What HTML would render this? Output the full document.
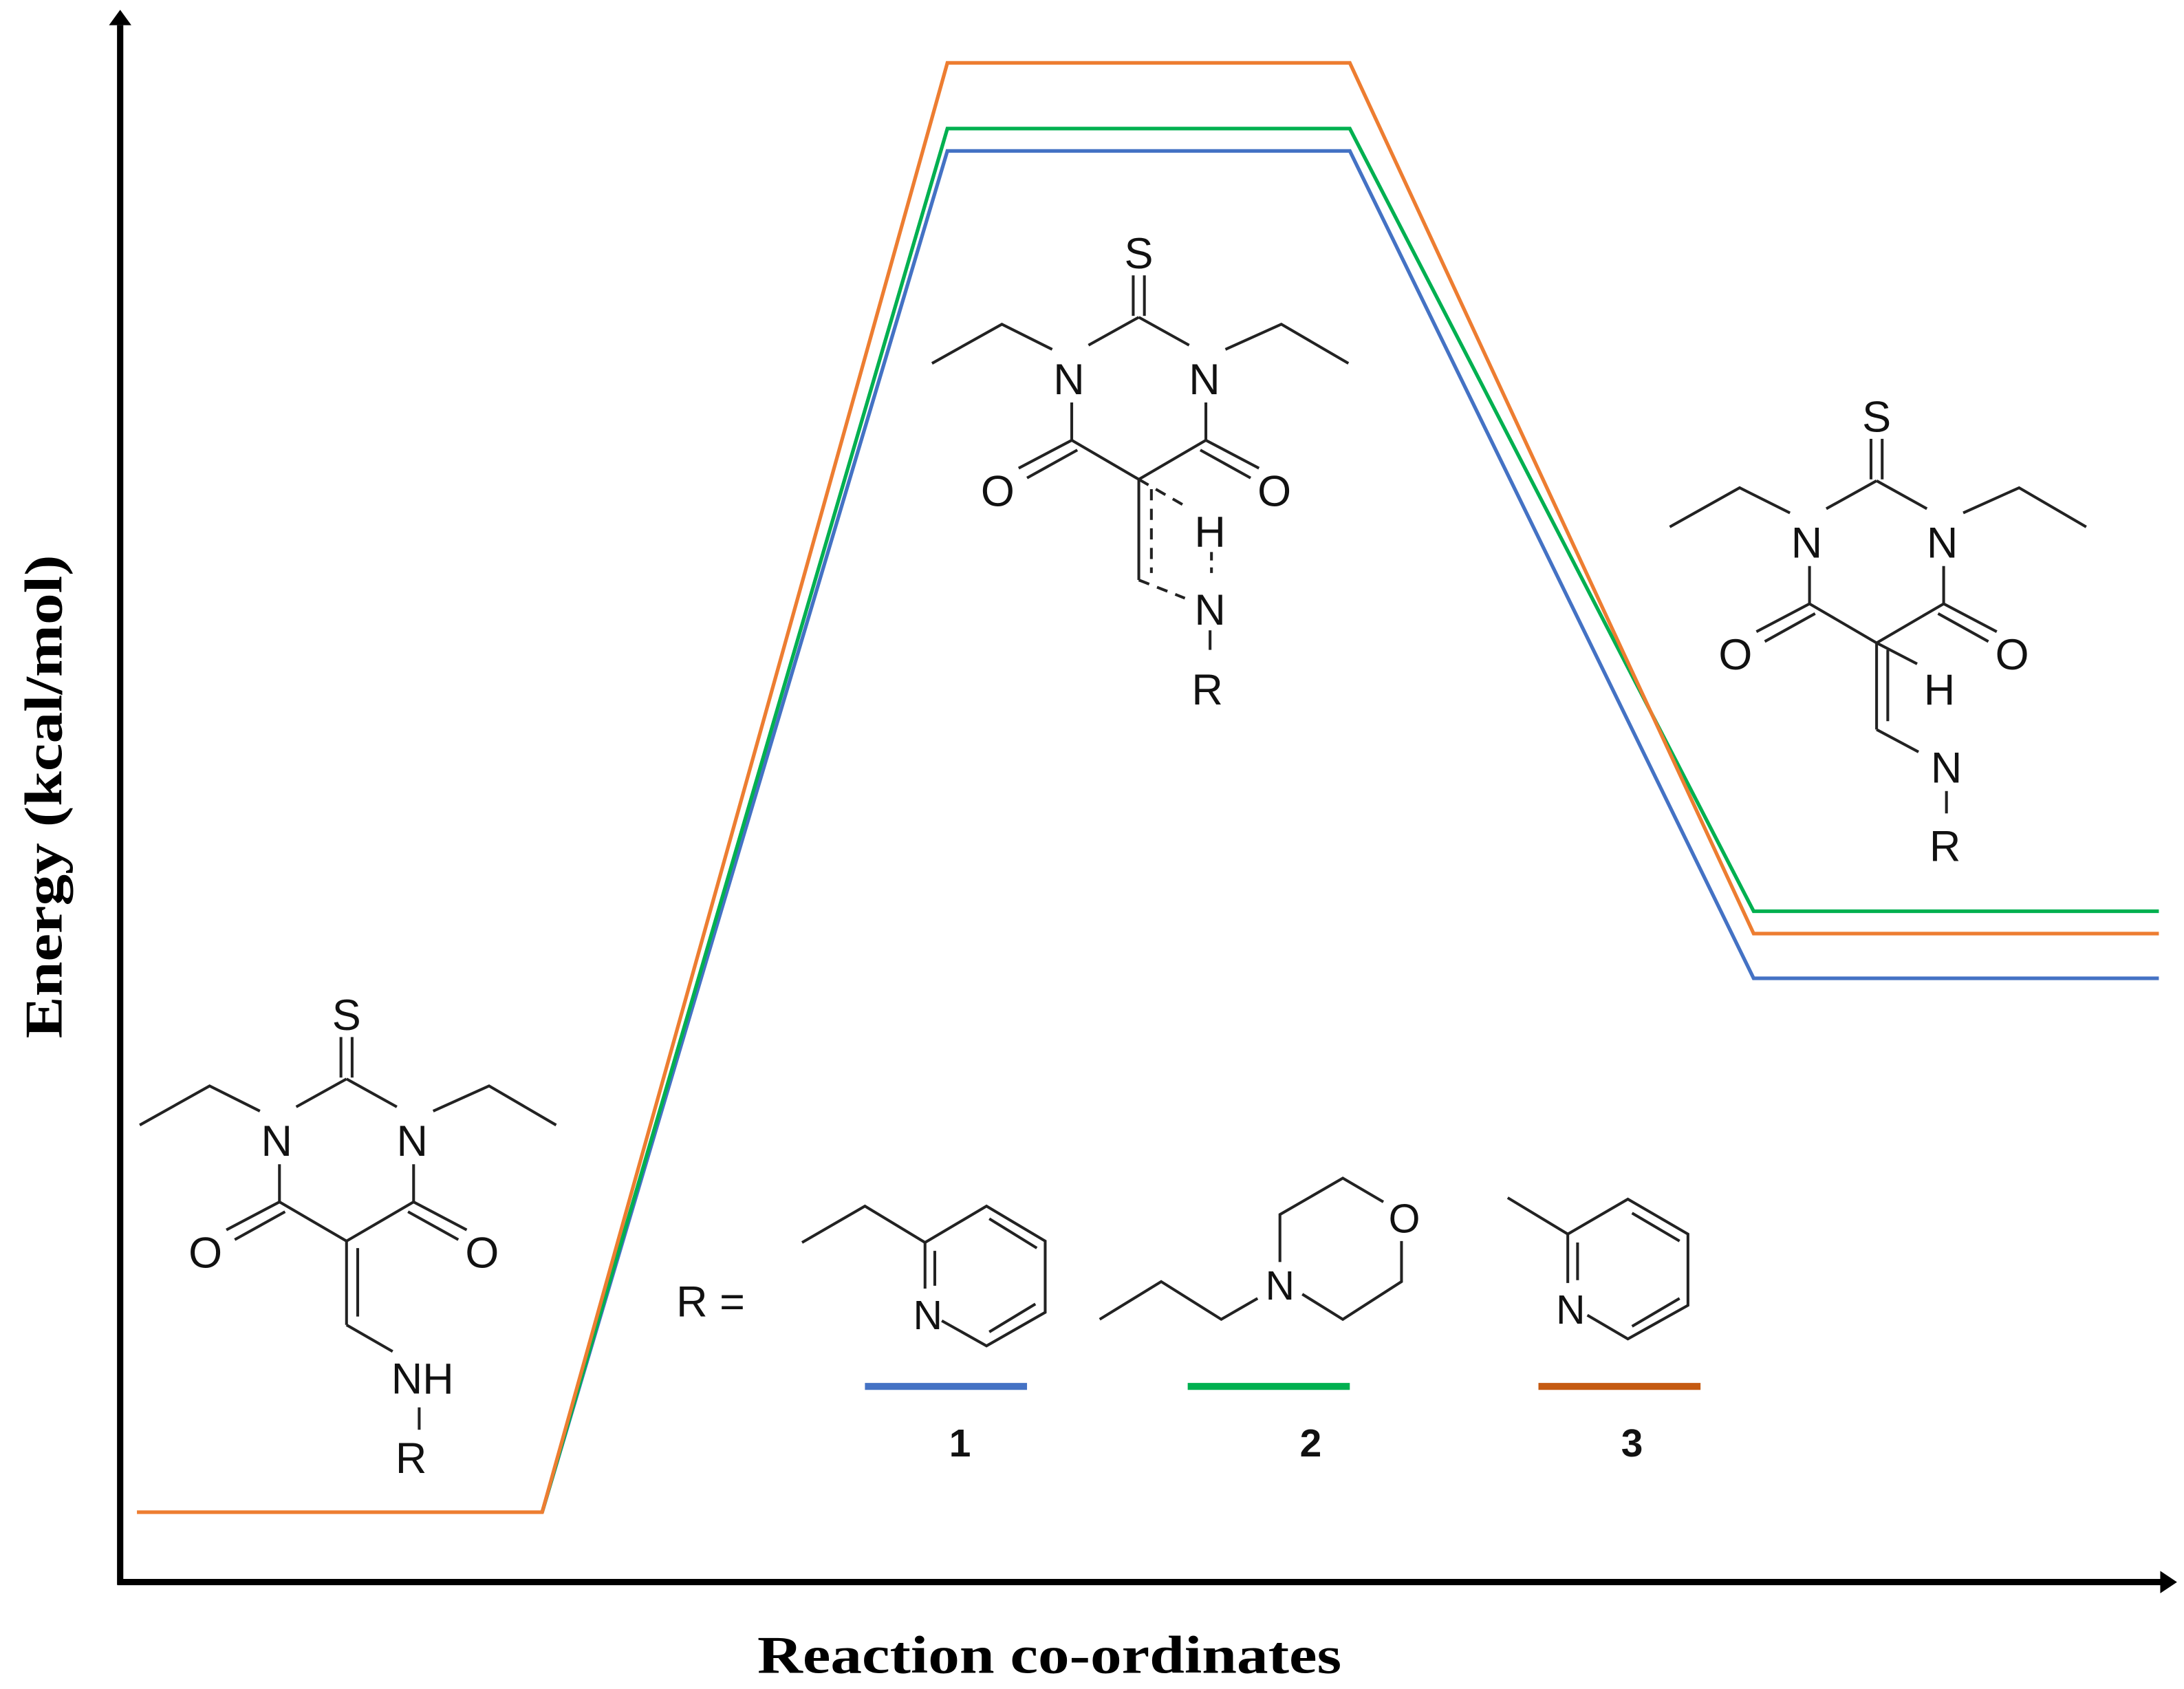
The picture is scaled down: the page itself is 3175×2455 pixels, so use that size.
<!DOCTYPE html>
<html><head><meta charset="utf-8"><style>html,body{margin:0;padding:0;background:#fff}svg{display:block}</style></head>
<body>
<svg width="3175" height="2455" viewBox="0 0 1563 1208.5" preserveAspectRatio="none" xmlns="http://www.w3.org/2000/svg">
<rect width="1563" height="1209" fill="#fff"/>
<defs>
<g id="core" stroke="#222" stroke-width="2" fill="none">
<line x1="244" y1="742" x2="244" y2="771"/><line x1="252" y1="742" x2="252" y2="771"/>
<line x1="248" y1="772" x2="212" y2="792"/><line x1="248" y1="772" x2="284" y2="792"/>
<polyline points="186,795 150,777 100,805"/>
<polyline points="310,795 350,777 398,805"/>
<line x1="200" y1="833" x2="200" y2="860"/><line x1="296" y1="833" x2="296" y2="860"/>
<polyline points="200,860 248,888 296,860"/>
<line x1="200" y1="860" x2="162" y2="880"/><line x1="204" y1="867" x2="168" y2="887"/>
<line x1="296" y1="860" x2="334" y2="880"/><line x1="292" y1="867" x2="328" y2="887"/>
</g>
<g id="corelbl" font-family="Liberation Sans, sans-serif" font-size="31" fill="#111" text-anchor="middle">
<text x="248" y="737">S</text>
<text x="198" y="827">N</text>
<text x="295" y="827">N</text>
<text x="147" y="907">O</text>
<text x="345" y="907">O</text>
</g>
</defs>

<g fill="none" stroke-width="2.6" stroke-linejoin="miter">
<polyline stroke="#4472c4" points="388,1082 678,108 966,108 1255,700 1545,700"/>
<polyline stroke="#00b050" points="388,1082 678,92 966,92 1255,652 1545,652"/>
<polyline stroke="#ed7d31" points="98,1082 388,1082 678,45 966,45 1255,668 1545,668"/>
</g>

<g stroke="#000" stroke-width="4.5">
<line x1="86" y1="1134" x2="86" y2="18"/>
<line x1="84" y1="1132" x2="1548" y2="1132"/>
</g>
<polygon points="86,7 78,18 94,18" fill="#000"/>
<polygon points="1558,1132 1546,1124 1546,1140" fill="#000"/>

<text x="0" y="0" transform="translate(44,570) rotate(-90)" font-family="Liberation Serif, serif" font-weight="bold" font-size="38" text-anchor="middle" textLength="346" lengthAdjust="spacingAndGlyphs">Energy (kcal/mol)</text>
<text x="751" y="1197" font-family="Liberation Serif, serif" font-weight="bold" font-size="38" text-anchor="middle" textLength="418" lengthAdjust="spacingAndGlyphs">Reaction co-ordinates</text>

<use href="#core"/><use href="#corelbl"/>
<g stroke="#222" stroke-width="2" fill="none">
<line x1="248" y1="888" x2="248" y2="948"/><line x1="256" y1="893" x2="256" y2="942"/>
<line x1="248" y1="948" x2="281" y2="967"/>
<line x1="300" y1="1007" x2="300" y2="1023"/>
</g>
<g font-family="Liberation Sans, sans-serif" font-size="31" fill="#111">
<text x="280" y="997">NH</text>
<text x="283" y="1054">R</text>
</g>

<g transform="translate(567,-545)"><use href="#core"/><use href="#corelbl"/></g>
<g stroke="#222" stroke-width="2" fill="none">
<line x1="815" y1="343" x2="815" y2="415"/>
<line x1="824" y1="350" x2="824" y2="410" stroke-dasharray="8,6"/>
<line x1="815" y1="343" x2="848" y2="362" stroke-dasharray="8,6"/>
<line x1="815" y1="415" x2="848" y2="428" stroke-dasharray="8,6"/>
<line x1="867" y1="395" x2="867" y2="410" stroke-dasharray="6,5"/>
<line x1="866" y1="451" x2="866" y2="465"/>
</g>
<g font-family="Liberation Sans, sans-serif" font-size="31" fill="#111" text-anchor="middle">
<text x="866" y="391">H</text>
<text x="866" y="447">N</text>
<text x="864" y="504">R</text>
</g>

<g transform="translate(1095,-428)"><use href="#core"/><use href="#corelbl"/></g>
<g stroke="#222" stroke-width="2" fill="none">
<line x1="1343" y1="460" x2="1343" y2="522"/><line x1="1351" y1="465" x2="1351" y2="516"/>
<line x1="1343" y1="460" x2="1372" y2="475"/>
<line x1="1343" y1="522" x2="1373" y2="538"/>
<line x1="1393" y1="566" x2="1393" y2="582"/>
</g>
<g font-family="Liberation Sans, sans-serif" font-size="31" fill="#111" text-anchor="middle">
<text x="1388" y="504">H</text>
<text x="1393" y="560">N</text>
<text x="1392" y="616">R</text>
</g>

<text x="484" y="942" font-family="Liberation Sans, sans-serif" font-size="31" fill="#111">R =</text>
<g stroke="#222" stroke-width="2" fill="none">
<polyline points="574,889 619,863 662,889 706,863 748,888 748,939 706,963 674,945"/>
<line x1="662" y1="889" x2="662" y2="922"/><line x1="669" y1="895" x2="669" y2="920"/>
<line x1="742" y1="893" x2="708" y2="872"/>
<line x1="741" y1="933" x2="708" y2="953"/>
<polyline points="787,944 831,917 874,944 900,929"/>
<polyline points="916,903 916,869 961,843 990,860"/>
<polyline points="1003,888 1003,917 961,944 932,926"/>
<polyline points="1079,857 1122,883 1165,858 1208,883 1208,934 1165,958 1136,941"/>
<line x1="1122" y1="883" x2="1122" y2="918"/><line x1="1129" y1="889" x2="1129" y2="916"/>
<line x1="1202" y1="888" x2="1168" y2="868"/>
<line x1="1202" y1="929" x2="1168" y2="949"/>
</g>
<g font-family="Liberation Sans, sans-serif" font-size="29" fill="#111" text-anchor="middle">
<text x="664" y="951">N</text>
<text x="916" y="930">N</text>
<text x="1005" y="882">O</text>
<text x="1124" y="947">N</text>
</g>
<g stroke-width="5">
<line x1="619" y1="992" x2="735" y2="992" stroke="#4472c4"/>
<line x1="850" y1="992" x2="966" y2="992" stroke="#00b050"/>
<line x1="1101" y1="992" x2="1217" y2="992" stroke="#c55a11"/>
</g>
<g font-family="Liberation Sans, sans-serif" font-weight="bold" font-size="28" fill="#111" text-anchor="middle">
<text x="687" y="1042">1</text>
<text x="938" y="1042">2</text>
<text x="1168" y="1042">3</text>
</g>
</svg>
</body></html>
